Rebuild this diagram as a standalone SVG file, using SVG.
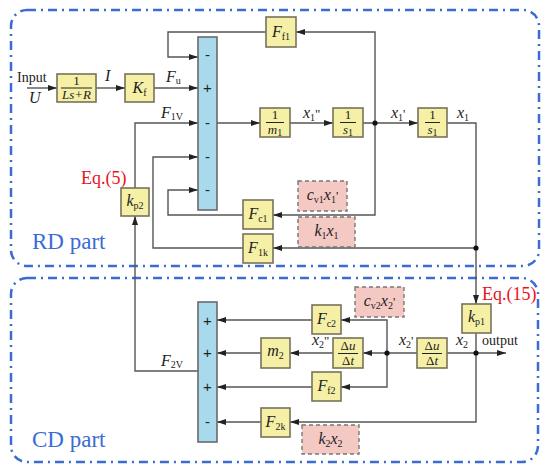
<svg xmlns="http://www.w3.org/2000/svg" width="550" height="474" viewBox="0 0 550 474">
<defs>
<marker id="ar" markerUnits="userSpaceOnUse" markerWidth="9" markerHeight="6" refX="9" refY="3" orient="auto">
<path d="M0,0 L9,3 L0,6 z" fill="#222"/>
</marker>
<style>
.part{fill:none;stroke:#3b6cd4;stroke-width:2.5;stroke-dasharray:9 5 2 5}
.blk{fill:#f5f0a6;stroke:#77725a;stroke-width:1.6}
.bar{fill:#a9d9ec;stroke:#6a6a6a;stroke-width:1.6}
.pink{fill:#f4c9c4;stroke:#777;stroke-width:1.4;stroke-dasharray:4 3}
.ln{fill:none;stroke:#555;stroke-width:1.4}
.arr{marker-end:url(#ar)}
.t{font-family:"Liberation Serif",serif;font-size:16px;fill:#222}
.i{font-style:italic}
.s{font-size:10px;font-style:normal}
.q{font-size:13px;font-style:normal}
.fr{font-family:"Liberation Serif",serif;font-size:13px;fill:#222}
.sg{font-family:"Liberation Sans",sans-serif;font-size:15px;fill:#222;text-anchor:middle}
.c{text-anchor:middle}
.red{font-family:"Liberation Serif",serif;font-size:18px;fill:#e8141c}
.pl{font-family:"Liberation Serif",serif;font-size:23px;fill:#3b6cd4}
.dot{fill:#111}
</style>
</defs>
<rect width="550" height="474" fill="#fff"/>
<g id="rd-part"><rect class="part" x="11" y="10" width="528" height="256" rx="16"/><text class="pl" x="32" y="249">RD part</text></g>
<g id="cd-part"><rect class="part" x="11" y="278" width="527" height="184" rx="16"/><text class="pl" x="32" y="447">CD part</text></g>

<g id="connectors">
<path class="ln arr" d="M27,88 H57"/>
<path class="ln arr" d="M96,88 H125"/>
<path class="ln arr" d="M154,88 H198"/>
<path class="ln arr" d="M375,123 V32 H296"/>
<path class="ln arr" d="M375,123 V215 H273"/>
<path class="ln arr" d="M266,32 H168 V57 H198"/>
<path class="ln arr" d="M217,123 H260"/>
<path class="ln arr" d="M290,123 H333"/>
<path class="ln arr" d="M363,123 H418"/>
<path class="ln arr" d="M447,123 H476 V304"/>
<path class="ln arr" d="M476,248 H273"/>
<path class="ln arr" d="M243,248 H153 V157 H198"/>
<path class="ln arr" d="M243,215 H168 V190 H198"/>
<path class="ln arr" d="M135,188 V123 H198"/>
<path class="ln arr" d="M198,371 H135 V216"/>
<path class="ln arr" d="M476,333 V422 H290"/>
<path class="ln arr" d="M447,353 H506"/>
<path class="ln arr" d="M417,353 H363"/>
<path class="ln arr" d="M387,353 V320 H341"/>
<path class="ln arr" d="M387,353 V387 H341"/>
<path class="ln arr" d="M333,353 H290"/>
<path class="ln arr" d="M312,320 H217"/>
<path class="ln arr" d="M261,353 H217"/>
<path class="ln arr" d="M312,387 H217"/>
<path class="ln arr" d="M261,422 H217"/>
<circle class="dot" cx="375" cy="123" r="2.6"/>
<circle class="dot" cx="476" cy="248" r="2.6"/>
<circle class="dot" cx="476" cy="353" r="2.6"/>
<circle class="dot" cx="387" cy="353" r="2.6"/>
</g>

<g id="labels">
<text class="t" x="17" y="82" style="font-size:14px">Input</text>
<text class="t i" x="29" y="103">U</text>
<text class="t i" x="105" y="81">I</text>
<text class="t i" x="166" y="82">F<tspan class="s" dy="2">u</tspan></text>
<text class="t i" x="161" y="118">F<tspan class="s" dy="2">1V</tspan></text>
<text class="t i" x="303" y="118">x<tspan class="s" dy="3">1</tspan><tspan class="q" dy="-3">"</tspan></text>
<text class="t i" x="391" y="118">x<tspan class="s" dy="3">1</tspan><tspan class="q" dy="-3">'</tspan></text>
<text class="t i" x="457" y="118">x<tspan class="s" dy="3">1</tspan></text>
<text class="t i" x="312" y="345">x<tspan class="s" dy="3">2</tspan><tspan class="q" dy="-3">"</tspan></text>
<text class="t i" x="399" y="345">x<tspan class="s" dy="3">2</tspan><tspan class="q" dy="-3">'</tspan></text>
<text class="t i" x="456" y="345">x<tspan class="s" dy="3">2</tspan></text>
<text class="t" x="482" y="345" style="font-size:14px">output</text>
<text class="t i" x="161" y="366">F<tspan class="s" dy="2">2V</tspan></text>
<text class="red" x="81" y="184">Eq.(5)</text>
<text class="red" x="482" y="300">Eq.(15)</text>
</g>

<g id="n-ls"><rect class="blk" x="57" y="74" width="39" height="28"/><text class="fr c" x="76.5" y="85">1</text><path d="M61,88 H92" stroke="#222" stroke-width="1"/><text class="fr c i" x="76.5" y="99">Ls+R</text></g>
<g id="n-kf"><rect class="blk" x="125" y="74" width="29" height="28"/><text class="t i c" x="139.5" y="93">K<tspan class="s" dy="3">f</tspan></text></g>
<g id="n-ff1"><rect class="blk" x="266" y="17" width="30" height="30"/><text class="t i c" x="281" y="37">F<tspan class="s" dy="3">f1</tspan></text></g>
<g id="n-bar1"><rect class="bar" x="198" y="37" width="19" height="173"/>
<text class="sg" x="207.5" y="60">-</text><text class="sg" x="207.5" y="93">+</text><text class="sg" x="207.5" y="128">-</text><text class="sg" x="207.5" y="162">-</text><text class="sg" x="207.5" y="195">-</text></g>
<g id="n-m1"><rect class="blk" x="260" y="108" width="30" height="29"/><text class="fr c" x="275" y="119">1</text><path d="M266,122.5 H284" stroke="#222" stroke-width="1"/><text class="fr c i" x="275" y="134">m<tspan class="s" dy="2">1</tspan></text></g>
<g id="n-s1a"><rect class="blk" x="333" y="108" width="30" height="29"/><text class="fr c" x="348" y="119">1</text><path d="M340,122.5 H356" stroke="#222" stroke-width="1"/><text class="fr c i" x="348" y="134">s<tspan class="s" dy="2">1</tspan></text></g>
<g id="n-s1b"><rect class="blk" x="418" y="108" width="29" height="29"/><text class="fr c" x="432.5" y="119">1</text><path d="M425,122.5 H440" stroke="#222" stroke-width="1"/><text class="fr c i" x="432.5" y="134">s<tspan class="s" dy="2">1</tspan></text></g>
<g id="n-kp2"><rect class="blk" x="121" y="188" width="28" height="28"/><text class="t i c" x="135" y="206">k<tspan class="s" dy="3">p2</tspan></text></g>
<g id="n-fc1"><rect class="blk" x="243" y="200" width="30" height="29"/><text class="t i c" x="258" y="219">F<tspan class="s" dy="3">c1</tspan></text></g>
<g id="n-f1k"><rect class="blk" x="243" y="234" width="30" height="29"/><text class="t i c" x="258" y="253">F<tspan class="s" dy="3">1k</tspan></text></g>
<g id="n-cv1"><rect class="pink" x="298" y="181" width="49" height="30"/><text class="t i c" x="322.5" y="200">c<tspan class="s" dy="3">v1</tspan><tspan dy="-3">x</tspan><tspan class="s" dy="3">1</tspan><tspan class="q" dy="-3">'</tspan></text></g>
<g id="n-k1x1"><rect class="pink" x="298" y="217" width="57" height="30"/><text class="t i c" x="326.5" y="236">k<tspan class="s" dy="3">1</tspan><tspan dy="-3">x</tspan><tspan class="s" dy="3">1</tspan></text></g>

<g id="n-kp1"><rect class="blk" x="462" y="304" width="29" height="29"/><text class="t i c" x="476.5" y="322">k<tspan class="s" dy="3">p1</tspan></text></g>
<g id="n-du2"><rect class="blk" x="417" y="338" width="30" height="30"/><text class="fr c" x="432" y="350">Δ<tspan class="i">u</tspan></text><path d="M422,353.5 H442" stroke="#222" stroke-width="1"/><text class="fr c" x="432" y="365">Δ<tspan class="i">t</tspan></text></g>
<g id="n-du1"><rect class="blk" x="333" y="338" width="30" height="30"/><text class="fr c" x="348" y="350">Δ<tspan class="i">u</tspan></text><path d="M338,353.5 H358" stroke="#222" stroke-width="1"/><text class="fr c" x="348" y="365">Δ<tspan class="i">t</tspan></text></g>
<g id="n-fc2"><rect class="blk" x="312" y="305" width="29" height="29"/><text class="t i c" x="326.5" y="324">F<tspan class="s" dy="3">c2</tspan></text></g>
<g id="n-ff2"><rect class="blk" x="312" y="372" width="29" height="29"/><text class="t i c" x="326.5" y="391">F<tspan class="s" dy="3">f2</tspan></text></g>
<g id="n-m2"><rect class="blk" x="261" y="338" width="29" height="30"/><text class="t i c" x="275.5" y="356">m<tspan class="s" dy="3">2</tspan></text></g>
<g id="n-f2k"><rect class="blk" x="261" y="408" width="29" height="29"/><text class="t i c" x="275.5" y="427">F<tspan class="s" dy="3">2k</tspan></text></g>
<g id="n-bar2"><rect class="bar" x="198" y="302" width="19" height="140"/>
<text class="sg" x="207.5" y="326">+</text><text class="sg" x="207.5" y="358">+</text><text class="sg" x="207.5" y="392">+</text><text class="sg" x="207.5" y="427">-</text></g>
<g id="n-cv2"><rect class="pink" x="355" y="287" width="49" height="30"/><text class="t i c" x="379.5" y="306">c<tspan class="s" dy="3">v2</tspan><tspan dy="-3">x</tspan><tspan class="s" dy="3">2</tspan><tspan class="q" dy="-3">'</tspan></text></g>
<g id="n-k2x2"><rect class="pink" x="302" y="425" width="57" height="29"/><text class="t i c" x="330.5" y="444">k<tspan class="s" dy="3">2</tspan><tspan dy="-3">x</tspan><tspan class="s" dy="3">2</tspan></text></g>
</svg>
